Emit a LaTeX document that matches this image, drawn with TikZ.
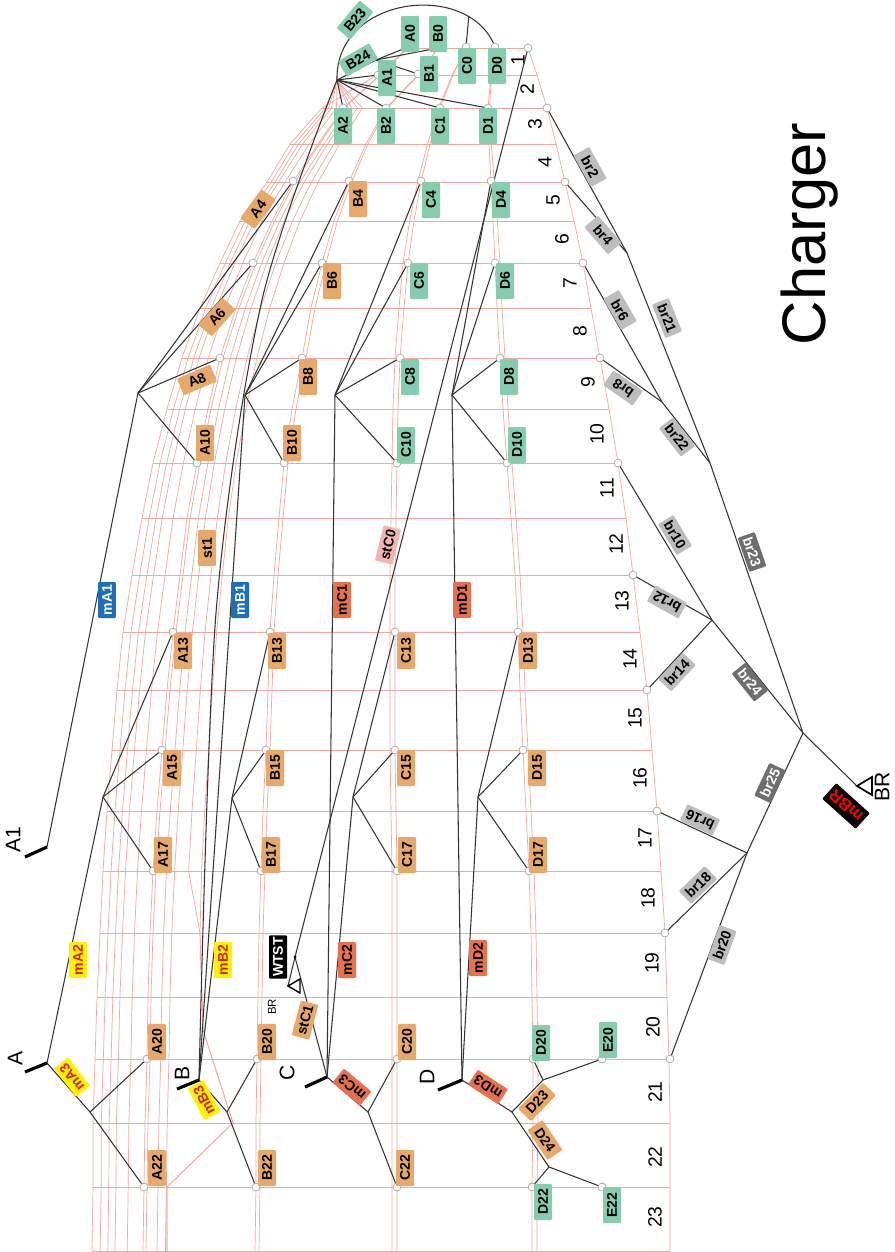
\documentclass[tikz,border=0pt]{standalone}
\usepackage{fontspec}
\setmainfont{Liberation Sans}
\usetikzlibrary{calc}

\definecolor{wirec}{HTML}{F2A89E}
\definecolor{tealc}{HTML}{86CCAF}
\definecolor{orangec}{HTML}{E7A96A}
\definecolor{redc}{HTML}{E8714D}
\definecolor{bluec}{HTML}{1E6EB8}
\definecolor{yellowc}{HTML}{FFF200}
\definecolor{txtred}{HTML}{D4201C}
\definecolor{pinkc}{HTML}{F4B3B3}
\definecolor{greyc}{HTML}{BDBDBD}
\definecolor{dgreyc}{HTML}{6E6E6E}

\tikzset{
  wire/.style={draw=wirec, line width=0.4pt},
  cable/.style={draw=black!80, line width=0.6pt},
  stub/.style={draw=black, line width=1.8pt},
  pin/.style={circle, draw=black!35, fill=white, inner sep=0pt, minimum size=4.5pt, line width=0.4pt},
  tag/.style={font=\bfseries\fontsize{8}{9}\selectfont, inner sep=1pt, minimum width=0.72cm,
    minimum height=0.36cm, rounded corners=0.6pt, rotate=#1},
  tag/.default=90,
  tealtag/.style={tag=#1, fill=tealc}, tealtag/.default=90,
  orangetag/.style={tag=#1, fill=orangec}, orangetag/.default=90,
  redtag/.style={tag=#1, fill=redc}, redtag/.default=90,
  bluetag/.style={tag=#1, fill=bluec, text=white}, bluetag/.default=90,
  yellowtag/.style={tag=#1, fill=yellowc, text=txtred}, yellowtag/.default=90,
  pinktag/.style={tag=#1, fill=pinkc}, pinktag/.default=90,
  greytag/.style={tag=#1, fill=greyc}, greytag/.default=90,
  darktag/.style={tag=#1, fill=dgreyc, text=white}, darktag/.default=90,
  blacktag/.style={tag=#1, fill=black, text=white}, blacktag/.default=90,
  endlabel/.style={font=\fontsize{12}{13}\selectfont, rotate=90},
  rownum/.style={font=\fontsize{11}{12}\selectfont, rotate=90},
}

% y / left edge / A / B / C / D / right edge
\def\grid{48/408/408/438/466/495/528, 75/377/380/418/453/491/537, 108/322/343/386/440/488/547,
  144/290/318/366/430/489/556, 182/267/293/349/421/491/565, 221/240/272/334/414/493/574,
  263/220/253/322/408/495/583, 308/200/236/311/404/497/591, 358/182/220/302/400/500/600,
  409/167/208/292/398/503/609, 463/153/197/284/397/507/618, 518/142/187/279/396/511/626,
  575/132/180/274/395/515/633, 632/123/173/270/395/518/640, 690/117/167/268/395/520/647,
  750/112/162/266/395/523/652, 811/107/157/263/396/526/657, 871/103/153/261/397/529/661,
  933/100/150/259/397/531/665, 997/97/148/258/397/532/667, 1059/95/147/257/397/533/669,
  1123/93/145/256/397/533/670, 1187/93/144/256/397/532/670, 1251/92/143/255/397/532/670}
\def\gridlow{108/322/343/386/440/488/547,
  144/290/318/366/430/489/556, 182/267/293/349/421/491/565, 221/240/272/334/414/493/574,
  263/220/253/322/408/495/583, 308/200/236/311/404/497/591, 358/182/220/302/400/500/600,
  409/167/208/292/398/503/609, 463/153/197/284/397/507/618, 518/142/187/279/396/511/626,
  575/132/180/274/395/515/633, 632/123/173/270/395/518/640, 690/117/167/268/395/520/647,
  750/112/162/266/395/523/652, 811/107/157/263/396/526/657, 871/103/153/261/397/529/661,
  933/100/150/259/397/531/665, 997/97/148/258/397/532/667, 1059/95/147/257/397/533/669,
  1123/93/145/256/397/533/670, 1187/93/144/256/397/532/670, 1251/92/143/255/397/532/670}
\def\gridmid{108/322/343/386/440/488/547,
  144/290/318/366/430/489/556, 182/267/293/349/421/491/565, 221/240/272/334/414/493/574,
  263/220/253/322/408/495/583, 308/200/236/311/404/497/591, 358/182/220/302/400/500/600,
  409/167/208/292/398/503/609, 463/153/197/284/397/507/618, 518/142/187/279/396/511/626,
  575/132/180/274/395/515/633, 632/123/173/270/395/518/640, 690/117/167/268/395/520/647,
  750/112/162/266/395/523/652, 811/107/157/263/396/526/657, 871/103/153/261/397/529/661}

\begin{document}
\begin{tikzpicture}[x=0.02cm,y=-0.02cm]
\fill[white] (0,0) rectangle (895,1252);
\useasboundingbox (0,0) rectangle (895,1252);

% ---- points
\coordinate (hub) at (337,80);
\coordinate (jb24) at (376,60);
\foreach \n/\x/\y in {a0c/408/47, b0c/438/48, c0c/466/47, d0c/495/47, r1c/528/48,
  a1c/378/75, b1c/418/74, a2c/343/108, b2c/386/108, c1c/440/108, d1c/488/108,
  a4c/293/181, b4c/349/181, c4c/421/181, d4c/491/181,
  a6c/253/263, b6c/322/263, c6c/408/263, d6c/495/263,
  a8c/220/358, b8c/302/358, c8c/400/358, d8c/500/358,
  a10c/197/463, b10c/284/463, c10c/397/463, d10c/507/463,
  a13c/173/632, b13c/270/632, c13c/395/632, d13c/518/632,
  a15c/162/750, b15c/266/750, c15c/395/750, d15c/523/750,
  a17c/153/871, b17c/261/871, c17c/397/871, d17c/529/871,
  a20c/147/1059, b20c/257/1059, c20c/397/1059, d20c/533/1059, e20c/602/1059,
  a22c/144/1187, b22c/256/1187, c22c/397/1187, d22c/532/1187, e22c/602/1187,
  r3c/547/108, r5c/565/182, r7c/583/263, r9c/600/358, r11c/618/463, r13c/633/575,
  r15c/647/690, r17c/657/811, r19c/665/933, r21c/670/1059}
  \coordinate (\n) at (\x,\y);
\foreach \n/\x/\y in {ja1/138/393, jb1/245/395, jc1/335/395, jd1/452/395,
  ja2/103/797, jb2/232/798, jc2/353/797, jd2/478/797,
  ja3/90/1112, jb3/227/1112, jc3/368/1112, jd3/512/1112, jd5/543/1080, jd6/549/1167,
  ea1/47/847, ea/47/1063, eb/199/1080, ec/327/1077, ed/462/1080,
  sa1/25/857, sa/25/1072, sb/177/1089, sc/305/1087, sd/438/1090,
  wdot/295/957, wtri/288/986,
  jbr1/627/253, jbr2/662/402, jbr3/710/463, jbr4/712/620, jbr5/747/853, jbr/803/733, brtri/857/786}
  \coordinate (\n) at (\x,\y);

% ---- red grid
\foreach \y/\l/\a/\b/\c/\d/\r in \grid {\draw[wire] (\l,\y) -- (\r,\y);}
\draw[wire] (408,48) \foreach \y/\l/\a/\b/\c/\d/\r in \grid { -- (\l,\y) };
\draw[wire] (528,48) \foreach \y/\l/\a/\b/\c/\d/\r in \grid { -- (\r,\y) };
\draw[wire] (408,48) \foreach \y/\l/\a/\b/\c/\d/\r in \grid { -- (\a,\y) };
\draw[wire] (438,48) \foreach \y/\l/\a/\b/\c/\d/\r in \grid { -- (\b,\y) };
\draw[wire] (466,48) \foreach \y/\l/\a/\b/\c/\d/\r in \grid { -- (\c,\y) };
\draw[wire] (495,48) \foreach \y/\l/\a/\b/\c/\d/\r in \grid { -- (\d,\y) };
\draw[wire] (408,48) \foreach \y/\l/\a/\b/\c/\d/\r in \grid { -- ({\a+3*min(1,(\y-48)/200)},\y) };
\draw[wire] (438,48) \foreach \y/\l/\a/\b/\c/\d/\r in \grid { -- ({\b+4*min(1,(\y-48)/200)},\y) };
\draw[wire] (466,48) \foreach \y/\l/\a/\b/\c/\d/\r in \grid { -- ({\c-5*min(1,(\y-48)/200)},\y) };
\draw[wire] (495,48) \foreach \y/\l/\a/\b/\c/\d/\r in \grid { -- ({\d+5*min(1,(\y-48)/200)},\y) };
\foreach \t in {0.16,0.31,0.45,0.69}
  \draw[wire] (hub) \foreach \y/\l/\a/\b/\c/\d/\r in \gridlow { -- ({\l+\t*(\a-\l)},\y) };
\foreach \t in {0.125,0.2}
  \draw[wire] (hub) \foreach \y/\l/\a/\b/\c/\d/\r in \gridlow { -- ({\a+\t*(\b-\a)},\y) };
\foreach \t in {0.33,0.45}
  \draw[wire] (hub) \foreach \y/\l/\a/\b/\c/\d/\r in \gridmid { -- ({\a+\t*(\b-\a)},\y) }
    -- (200,933) -- (203,1030) -- (233,1123) -- (167,1187) -- (167,1251);

% ---- row numbers
\foreach \k/\x/\y in {1/518/60, 2/527/89, 3/535/124, 4/545/162, 5/553/200, 6/562/239,
  7/570/283, 8/580/331, 9/588/382, 10/597/434, 11/607/488, 12/616/544, 13/622/601,
  14/630/659, 15/635/718, 16/640/778, 17/645/838, 18/648/898, 19/652/963, 20/653/1027,
  21/655/1092, 22/655/1157, 23/655/1217}
  \node[rownum] (row\k) at (\x,\y) {\k};

% ---- cables at the hub
\foreach \p in {a1c,a2c,b2c,c1c,d1c,jb24} \draw[cable] (hub) -- (\p);
\foreach \p in {a0c,b0c,b1c} \draw[cable] (jb24) -- (\p);
\draw[cable] (hub) .. controls (335,-5) and (470,-20) .. (d0c) coordinate[pos=0.8] (arcbr);
\draw[cable] (arcbr) -- (c0c);
\draw[cable] plot[smooth, tension=0.5] coordinates {(hub) (262,300) (216,613) (eb)};

% ---- splices, upper row
\foreach \j/\g in {ja1/a, jb1/b, jc1/c, jd1/d}
  \foreach \n in {4,6,8,10} \draw[cable] (\j) -- (\g\n c);
\draw[cable] (ja1) -- (ea1);
\draw[cable] (jb1) -- (eb);
\draw[cable] (jc1) -- (ec);
\draw[cable] (jd1) -- (ed);

% ---- splices, middle row
\foreach \j/\g in {ja2/a, jb2/b, jc2/c, jd2/d}
  \foreach \n in {13,15,17} \draw[cable] (\j) -- (\g\n c);
\draw[cable] (ja2) -- (ea);
\draw[cable] (jb2) -- (eb);
\draw[cable] (jc2) -- (ec);
\draw[cable] (jd2) -- (ed);

% ---- splices, lower row
\draw[cable] (ea) -- (ja3) -- (a22c);
\draw[cable] (ja3) -- (a20c);
\draw[cable] (eb) -- (jb3) -- (b22c);
\draw[cable] (jb3) -- (b20c);
\draw[cable] (ec) -- (jc3) -- (c22c);
\draw[cable] (jc3) -- (c20c);
\draw[cable] (ed) -- (jd3) -- (jd5);
\draw[cable] (jd3) -- (jd6);
\draw[cable] (jd5) -- (d20c);
\draw[cable] (jd5) -- (e20c);
\draw[cable] (jd6) -- (d22c);
\draw[cable] (jd6) -- (e22c);

% ---- connector ends
\draw[stub] (ea1) -- (sa1);
\draw[stub] (ea) -- (sa);
\draw[stub] (eb) -- (sb);
\draw[stub] (ec) -- (sc);
\draw[stub] (ed) -- (sd);

% ---- test point
\draw[cable] (r1c) -- (wdot);
\draw[cable] (wdot) -- (ec);
\draw[cable] (wdot) -- (wtri);
\fill (wdot) circle (1.6);
\draw[line width=0.8pt] (wtri) -- ++(12,-7) -- ++(0,14) -- cycle;

% ---- bridge tree
\draw[cable] (r3c) -- (jbr1);
\draw[cable] (r5c) -- (jbr1);
\draw[cable] (jbr1) -- (jbr3);
\draw[cable] (r7c) -- (jbr2);
\draw[cable] (r9c) -- (jbr2);
\draw[cable] (jbr2) -- (jbr3);
\draw[cable] (jbr3) -- (jbr);
\foreach \p in {r11c,r13c,r15c} \draw[cable] (\p) -- (jbr4);
\draw[cable] (jbr4) -- (jbr);
\foreach \p in {r17c,r19c,r21c} \draw[cable] (\p) -- (jbr5);
\draw[cable] (jbr5) -- (jbr);
\draw[cable] (jbr) -- (brtri);
\draw[line width=1pt] (brtri) -- ++(15,-9) -- ++(0,18) -- cycle;

% ---- pins
\foreach \p in {a0c,b0c,c0c,d0c,r1c,a1c,b1c,a2c,b2c,c1c,d1c,a4c,b4c,c4c,d4c,
  a6c,b6c,c6c,d6c,a8c,b8c,c8c,d8c,a10c,b10c,c10c,d10c,a13c,b13c,c13c,d13c,
  a15c,b15c,c15c,d15c,a17c,b17c,c17c,d17c,a20c,b20c,c20c,d20c,e20c,
  a22c,b22c,c22c,d22c,e22c,r3c,r5c,r7c,r9c,r11c,r13c,r15c,r17c,r19c,r21c}
  \node[pin] (p\p) at (\p) {};

% ---- tags
\foreach \n/\x/\y in {A0/410/34, B0/438/34, C0/467/66, D0/497/66, A1/387/78, B1/429/74,
  A2/343/126, B2/386/126, C1/440/126, D1/488/126, C4/431/200, D4/501/200,
  C6/419/281, D6/505/281, C8/410/377, D8/509/377, C10/406/445, D10/517/445,
  D20/541/1043, D22/543/1202, E20/608/1040, E22/612/1205}
  \node[tealtag] (t\n) at (\x,\y) {\n};
\node[tealtag=50] (tB23) at (355,20) {B23};
\node[tealtag=30] (tB24) at (358,60) {B24};
\foreach \n/\x/\y in {A10/205/443, B4/358/199, B6/332/281, B8/308/377, B10/292/443,
  st1/207/548, A13/183/651, B13/277/651, C13/406/651, D13/528/651,
  A15/172/768, B15/275/768, C15/406/768, D15/537/768,
  A17/163/855, B17/271/855, C17/407/855, D17/538/855,
  A20/157/1042, B20/267/1042, C20/407/1042, A22/157/1168, B22/267/1168, C22/405/1168}
  \node[orangetag] (t\n) at (\x,\y) {\n};
\node[orangetag=54] (tA4) at (258,209) {A4};
\node[orangetag=48] (tA6) at (217,317) {A6};
\node[orangetag=23] (tA8) at (197,380) {A8};
\node[orangetag=75] (tstC1) at (305,1020) {stC1};
\node[orangetag=46] (tD23) at (537,1102) {D23};
\node[orangetag=-56] (tD24) at (545,1140) {D24};
\node[redtag] (tmC1) at (342,600) {mC1};
\node[redtag] (tmD1) at (462,600) {mD1};
\node[redtag] (tmC2) at (347,960) {mC2};
\node[redtag] (tmD2) at (478,958) {mD2};
\node[redtag=140] (tmC3) at (352,1087) {mC3};
\node[redtag=147] (tmD3) at (488,1087) {mD3};
\node[bluetag] (tmA1) at (107,600) {mA1};
\node[bluetag] (tmB1) at (240,600) {mB1};
\node[yellowtag] (tmA2) at (78,960) {mA2};
\node[yellowtag] (tmB2) at (223,960) {mB2};
\node[yellowtag=128] (tmA3) at (72,1077) {mA3};
\node[yellowtag=118] (tmB3) at (204,1100) {mB3};
\node[pinktag=76] (tstC0) at (388,545) {stC0};
\node[blacktag] (tWTST) at (278,957) {WTST};
\foreach \n/\x/\y/\r in {br2/590/167/-61, br4/603/235/-49, br6/620/310/-60, br21/667/318/-68,
  br8/623/388/145, br22/677/437/-52, br10/675/535/-59, br12/667/602/151, br14/677/672/47,
  br16/700/820/155, br18/698/885/44, br20/722/945/70}
  \node[greytag=\r] (t\n) at (\x,\y) {\n};
\node[darktag=-71] (tbr23) at (752,552) {br23};
\node[darktag=-51] (tbr24) at (750,682) {br24};
\node[darktag=65] (tbr25) at (770,783) {br25};
\node[blacktag=138, text=red, font=\bfseries\fontsize{9.5}{10}\selectfont, minimum width=0.9cm,
  minimum height=0.42cm] (tmBR) at (846,806) {mBR};

% ---- plain text
\node[endlabel] (lA1) at (13,840) {A1};
\node[endlabel] (lA) at (15,1058) {A};
\node[endlabel] (lB) at (182,1073) {B};
\node[endlabel] (lC) at (287,1073) {C};
\node[endlabel] (lD) at (427,1077) {D};
\node[rotate=90, font=\fontsize{6.5}{7}\selectfont] (lbr) at (272,1007) {BR};
\node[rotate=90, font=\fontsize{12}{13}\selectfont] (lBR) at (882,787) {BR};
\node[rotate=90, font=\fontsize{35}{38}\selectfont] (title) at (810,234) {Charger};
\end{tikzpicture}
\end{document}
